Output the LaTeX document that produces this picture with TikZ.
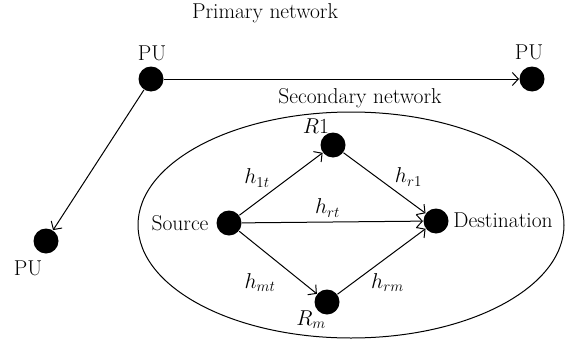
\documentclass[tikz,border=0pt]{standalone}
\usepackage{fix-cm}
\usetikzlibrary{arrows.meta}

\begin{document}
\begin{tikzpicture}[x=1pt, y=-1pt, font=\fontsize{21.5}{26}\selectfont, line width=1pt,
  >={Straight Barb[length=6pt, width=13pt]}]
\useasboundingbox (0,0) rectangle (569,345);
\tikzstyle{vertex}=[circle, fill=black, minimum size=25pt, inner sep=0pt]
\tikzstyle{EdgeStyle}=[->]
\tikzstyle{wgt}=[inner sep=1pt]

% primary network
\node (prim) at (265,13) {Primary network};
\node[vertex] (pu1) at (151,79) {};
\node[vertex] (pu2) at (532,79) {};
\node[vertex] (pu3) at (46,241) {};
\node (pu1l) at (152,53) {PU};
\node (pu2l) at (529,52) {PU};
\node (pu3l) at (28,268) {PU};

\draw[EdgeStyle] (pu1) -- (pu2);
\draw[EdgeStyle] (pu1) -- (pu3);

% secondary network
\draw (351,225) ellipse [x radius=213pt, y radius=113pt];
\node (sec) at (360,98) {Secondary network};

\node[vertex] (src) at (229,223) {};
\node[vertex] (r1) at (333,145) {};
\node[vertex] (rm) at (327,302) {};
\node[vertex] (dst) at (436,221) {};
\node (srcl) at (180,223) {Source};
\node (dstl) at (503,220) {Destination};
\node (r1l) at (316,126) {$R1$};
\node (rml) at (311,320) {$R_m$};

\draw[EdgeStyle] (src) -- node[wgt, xshift=-24pt, yshift=6pt] (h1t) {$h_{1t}$} (r1);
\draw[EdgeStyle] (src) -- node[wgt, xshift=-5pt, yshift=14pt] (hrt) {$h_{rt}$} (dst);
\draw[EdgeStyle] (r1) -- node[wgt, xshift=24pt, yshift=6pt] (hr1) {$h_{r1}$} (dst);
\draw[EdgeStyle] (src) -- node[wgt, xshift=-18pt, yshift=-20pt] (hmt) {$h_{mt}$} (rm);
\draw[EdgeStyle] (rm) -- node[wgt, xshift=6pt, yshift=-21pt] (hrm) {$h_{rm}$} (dst);

\end{tikzpicture}
\end{document}
